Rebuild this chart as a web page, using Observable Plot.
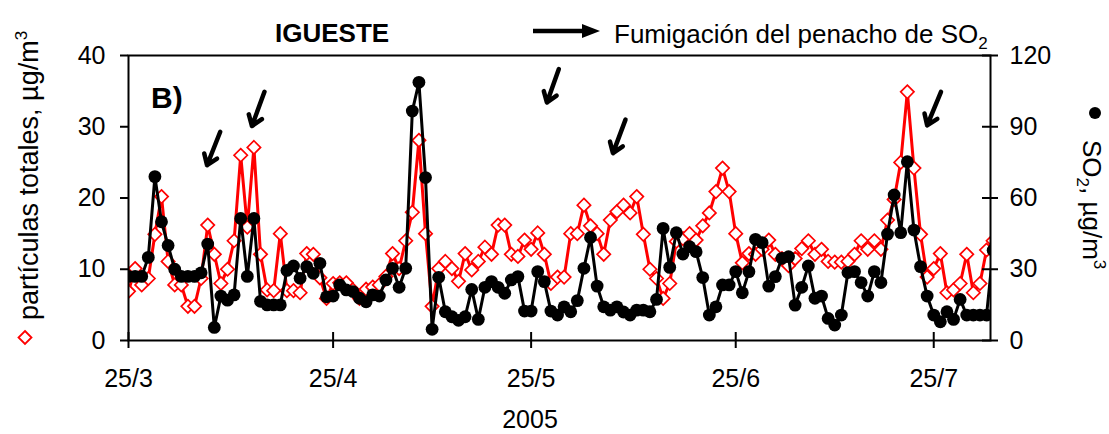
<!DOCTYPE html>
<html><head><meta charset="utf-8">
<script src="https://cdn.jsdelivr.net/npm/d3@7"></script>
<script src="https://cdn.jsdelivr.net/npm/@observablehq/plot@0.6"></script>
<style>body{margin:0;background:#fff} svg{display:block}</style>
</head><body><div id="chart"></div>
<script>
// Daily series starting 24/3/2005
const firstDay = "2005-03-24";
// partículas totales, µg/m3 (left axis)
const particulas = [
  9, 6.9, 10.1, 7.8, 8.7, 14.9, 20.2, 11.1, 7.8, 7.8,
  4.8, 4.8, 8.7, 16.2, 12.1, 8.0, 10, 14.0, 26, 15.9,
  27.1, 12.1, 7.1, 7, 15, 7, 7, 6.7, 12.2, 12.1,
  8.8, 5.9, 8, 8.1, 8.1, 7.1, 5.9, 7.2, 7.5, 7.8,
  9, 12.2, 10.1, 14, 18, 28.1, 15, 4.8, 10.1, 11.1,
  10.1, 8.3, 12.2, 9.9, 11.1, 13.1, 12.1, 16.2, 16.2, 12.1,
  11.8, 14.1, 12.8, 15.1, 12.1, 8.0, 8.9, 8.9, 15.0, 15.0,
  19.0, 16.1, 15.0, 12.1, 16.9, 18.1, 19.0, 17.9, 20.2, 14.9,
  10.0, 8.7, 5.9, 8.0, 13.9, 14.3, 15.0, 14.1, 16.1, 17.9,
  20.9, 24.2, 20.9, 15.0, 10.9, 12.2, 12.1, 12.8, 14.1, 12.1,
  11.5, 10.5, 11.5, 12.9, 14.0, 12.1, 12.8, 11.1, 11, 11,
  11.1, 12.1, 14.0, 12.8, 14.0, 12.8, 16.9, 19.8, 25.0, 34.9,
  24.2, 14.9, 8.9, 10.1, 12.2, 6.7, 7.1, 8.0, 12.1, 6.7,
  8.0, 12.7, 14
];
// SO2, µg/m3 (right axis)
const so2 = [
  30, 27, 27, 27, 35, 69, 50, 40, 30, 27,
  27, 27, 28.5, 40.6, 5.5, 18.7, 17, 19.2, 51.4, 27,
  51.4, 16.5, 15, 15, 15, 29.5, 31.4, 26.2, 31.1, 28.3,
  32.5, 18.4, 18.7, 23.4, 21.3, 20.6, 17.8, 16.3, 19.2, 18.7,
  25.5, 30.4, 22.4, 30.4, 96.6, 108.7, 68.6, 4.7, 26.6, 12.1,
  10, 8.5, 10, 21.5, 8.9, 22.4, 24.8, 22.4, 19.9, 25.5,
  26.9, 12.4, 12.4, 29, 24.8, 12.4, 10.7, 14.2, 12.1, 16.8,
  30.4, 43.4, 22.9, 14.2, 12.8, 14.2, 12, 10.7, 12.8, 12.8,
  12.1, 17.3, 47.2, 30.8, 45.4, 36.4, 39.5, 37.4, 26.5, 10.7,
  14.2, 23.4, 23.4, 29, 20.1, 29, 42.6, 41.2, 22.9, 26.9,
  34.6, 35.3, 14.9, 22.4, 31.4, 17.8, 18.7, 9.3, 6.5, 10.7,
  28.6, 29, 24.4, 18.7, 29, 24.4, 44.8, 61.3, 45.4, 75.3,
  46.5, 31.1, 18.7, 10.7, 7.9, 12.1, 8.9, 17.3, 10.7, 10.7,
  10.7, 10.7, 38
];
const tickDates = ["2005-03-25", "2005-04-25", "2005-05-25", "2005-06-25", "2005-07-25"];
const tickLabels = ["25/3", "25/4", "25/5", "25/6", "25/7"];
const leftTicks = [0, 10, 20, 30, 40];
const rightTickLabels = ["0", "30", "60", "90", "120"];
// Fumigation arrows: days after 25/3 (tail, tip) and heights on left scale
const arrowTailDay = [13.9, 20.6, 65.2, 75.3, 123.1];
const arrowTailY   = [29.3, 34.9, 38.1, 31.0, 34.9];
const arrowTipDay  = [11.9, 18.7, 63.4, 73.4, 121.0];
const arrowTipY    = [24.6, 30.1, 33.4, 26.3, 30.2];

const DAY = 864e5;
const base = Date.parse(firstDay + "T00:00:00Z");
const x0 = Date.parse(tickDates[0] + "T00:00:00Z");
const rows = particulas.map((v, i) => ({date: new Date(base + i * DAY), pt: v, so2: so2[i] / 3}));
const arrows = arrowTailDay.map((d, i) => ({
  x1: new Date(x0 + d * DAY), y1: arrowTailY[i],
  x2: new Date(x0 + arrowTipDay[i] * DAY), y2: arrowTipY[i]
}));
const ticks = tickDates.map(s => new Date(s + "T00:00:00Z"));
const fmtX = d => tickLabels[ticks.findIndex(t => +t === +d)];
const FONT = "Liberation Sans, Arial, sans-serif";

const chart = Plot.plot({
  width: 1109, height: 434,
  marginLeft: 128, marginRight: 119, marginTop: 55, marginBottom: 94,
  style: {fontFamily: FONT, fontSize: "25px", background: "white", color: "black"},
  x: {type: "utc", domain: [new Date(x0), new Date(x0 + 130.6 * DAY)]},
  y: {domain: [0, 40]},
  marks: [
    Plot.line(rows, {x: "date", y: "pt", stroke: "#ff0000", strokeWidth: 3, clip: true}),
    Plot.dot(rows, {x: "date", y: "pt", symbol: "diamond2", r: 6, stroke: "#ff0000", strokeWidth: 1.7, fill: "white", clip: true}),
    Plot.line(rows, {x: "date", y: "so2", stroke: "black", strokeWidth: 3, clip: true}),
    Plot.dot(rows, {x: "date", y: "so2", r: 6.4, fill: "black", stroke: "none", clip: true}),
    Plot.arrow(arrows, {x1: "x1", y1: "y1", x2: "x2", y2: "y2", stroke: "black", strokeWidth: 4.5, headLength: 11, headAngle: 70}),
    Plot.frame({stroke: "black", strokeWidth: 2}),
    Plot.axisY(leftTicks, {anchor: "left", tickSize: 8, tickPadding: 15, strokeWidth: 2, tickFormat: d => String(d), label: null}),
    Plot.axisY(leftTicks, {anchor: "right", tickSize: 7, tickPadding: 12, strokeWidth: 2, tickFormat: d => rightTickLabels[leftTicks.indexOf(d)], label: null}),
    Plot.axisY(leftTicks, {anchor: "right", tickSize: -9, strokeWidth: 2, tickFormat: () => "", label: null}),
    Plot.axisX(ticks, {anchor: "bottom", tickSize: 8, tickPadding: 21, strokeWidth: 2, tickFormat: fmtX, label: null}),
    Plot.axisX(ticks, {anchor: "bottom", tickSize: -8, strokeWidth: 2, tickFormat: () => "", label: null})
  ]
});
document.getElementById("chart").appendChild(chart);

const svg = d3.select(chart);
const g = svg.append("g").attr("font-family", FONT).attr("fill", "black").attr("text-anchor", "start");
// Title
g.append("text").attr("x", 275).attr("y", 42).attr("font-size", 26).attr("font-weight", "bold").text("IGUESTE");
// Legend arrow and text
g.append("line").attr("x1", 533).attr("y1", 31).attr("x2", 585).attr("y2", 31).attr("stroke", "black").attr("stroke-width", 4.5);
g.append("path").attr("d", "M582,24L600,31L582,38Z").attr("fill", "black");
const lt = g.append("text").attr("x", 614).attr("y", 43).attr("font-size", 26);
lt.append("tspan").text("Fumigación del penacho de SO");
lt.append("tspan").attr("font-size", 17).attr("dy", 6).text("2");
// Panel label
g.append("text").attr("x", 151).attr("y", 108).attr("font-size", 30).attr("font-weight", "bold").text("B)");
// X title
g.append("text").attr("x", 530).attr("y", 428).attr("text-anchor", "middle").attr("font-size", 25).text("2005");
// Left title
g.append("path").attr("d", "M25,331L31.5,337.5L25,344L18.5,337.5Z").attr("fill", "white").attr("stroke", "#ff0000").attr("stroke-width", 1.8);
const ly = g.append("text").attr("transform", "translate(38,320) rotate(-90)").attr("font-size", 27);
ly.append("tspan").text("partículas totales, µg/m");
ly.append("tspan").attr("font-size", 17).attr("dy", -11).text("3");
// Right title
g.append("circle").attr("cx", 1095).attr("cy", 113).attr("r", 6).attr("fill", "black");
const ry = g.append("text").attr("transform", "translate(1083,140) rotate(90)").attr("font-size", 26);
ry.append("tspan").text("SO");
ry.append("tspan").attr("font-size", 17).attr("dy", 6).text("2");
ry.append("tspan").attr("dy", -6).text(", µg/m");
ry.append("tspan").attr("font-size", 17).attr("dy", -11).text("3");
</script>
</body></html>
